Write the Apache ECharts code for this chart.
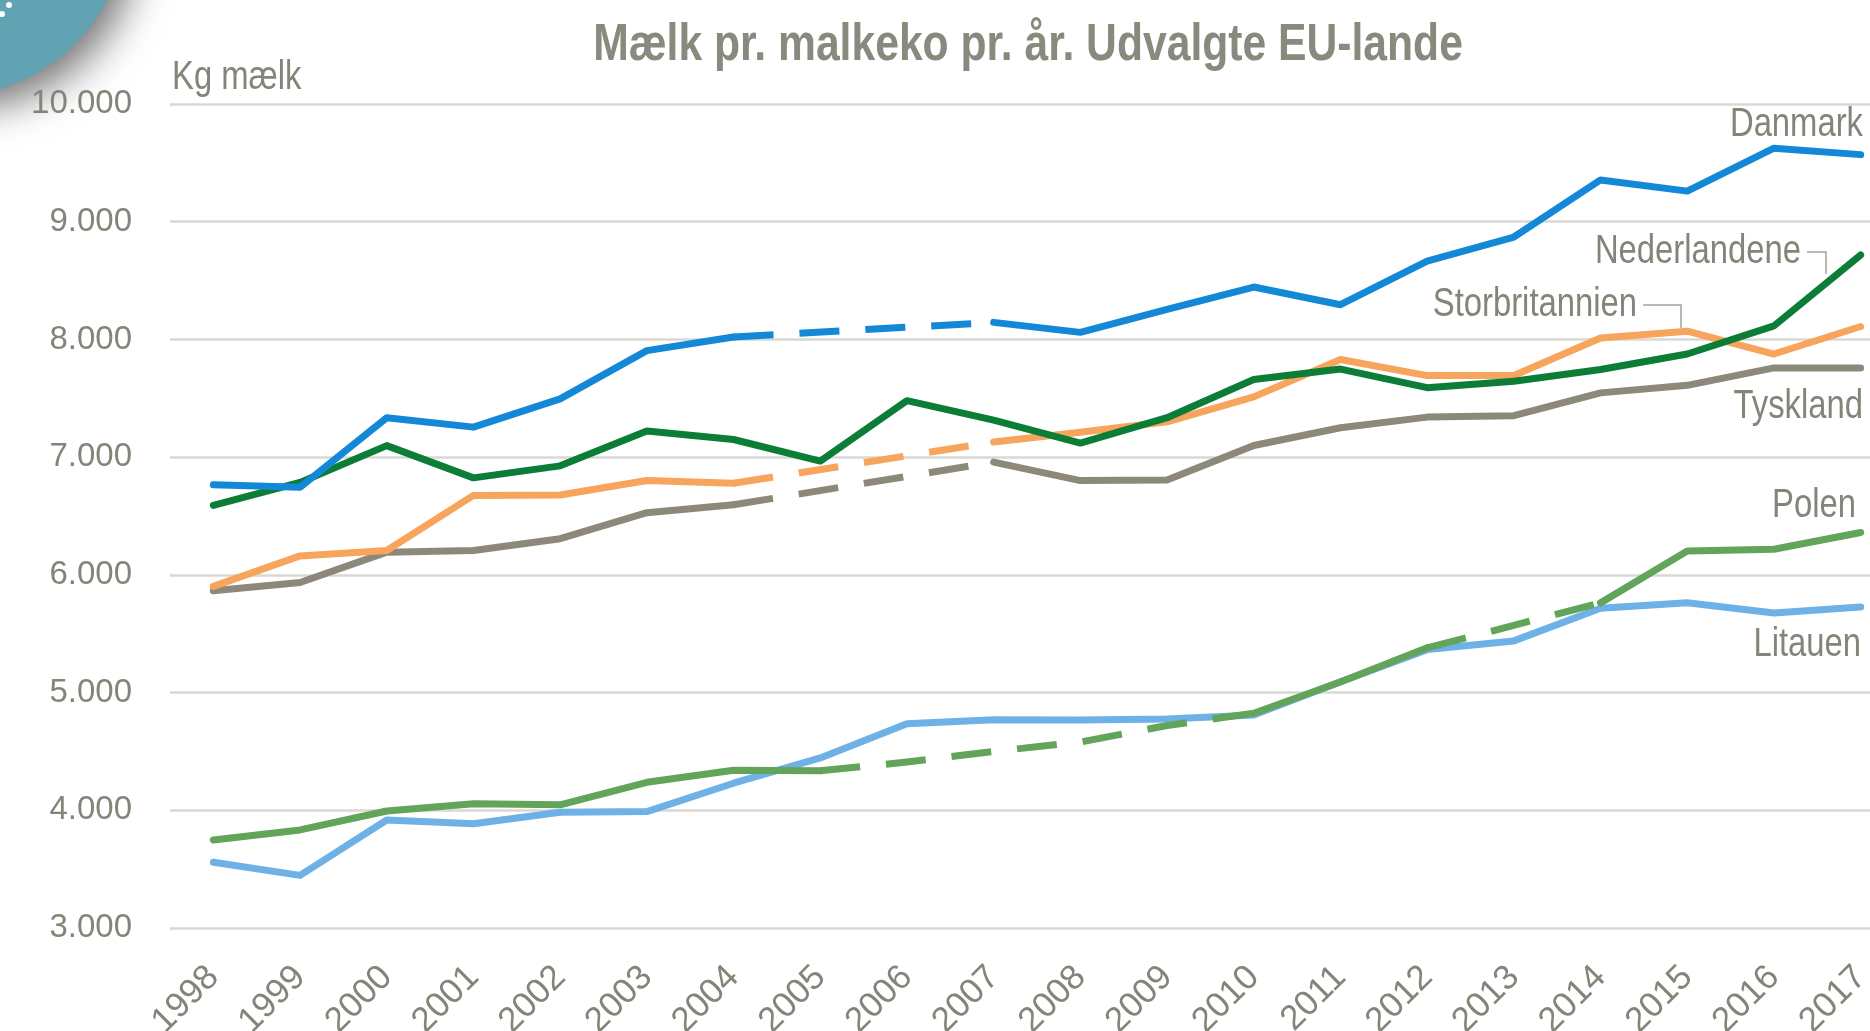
<!DOCTYPE html>
<html>
<head>
<meta charset="utf-8">
<title>Mælk pr. malkeko</title>
<script src="https://cdn.jsdelivr.net/npm/echarts@6/dist/echarts.min.js"></script>
<style>
  html, body { margin: 0; padding: 0; background: #fff; }
  #chart { width: 1870px; height: 1031px; }
</style>
</head>
<body>
<div id="chart"></div>
<script>
// årstal på x-aksen
var years = ['1998', '1999', '2000', '2001', '2002', '2003', '2004', '2005', '2006', '2007',
  '2008', '2009', '2010', '2011', '2012', '2013', '2014', '2015', '2016', '2017'];

// kg mælk pr. ko, fuldt optrukne stykker (null = hul)
var danmark = [6765, 6745, 7335, 7255, 7495, 7905, 8020, null, null, 8145, 8060, 8255, 8445, 8295, 8665, 8870, 9355, 9260, 9625, 9570];
var nederlandene = [6590, 6785, 7098, 6824, 6926, 7222, 7150, 6967, 7480, 7315, 7120, 7335, 7660, 7748, 7590, 7645, 7745, 7876, 8115, 8717];
var storbritannien = [5902, 6161, 6207, 6675, 6678, 6801, 6778, null, null, 7128, 7212, 7300, 7512, 7830, 7693, 7693, 8012, 8070, 7876, 8110];
var tyskland = [5865, 5935, 6193, 6207, 6307, 6528, 6595, null, null, 6958, 6801, 6806, 7099, 7250, 7340, 7352, 7546, 7610, 7758, 7758];
var polen = [3748, 3833, 3994, 4055, 4046, 4238, 4340, 4335, null, null, null, null, 4825, 5090, 5380, null, 5762, 6203, 6218, 6360];
var litauen = [3558, 3447, 3918, 3885, 3983, 3989, 4230, 4445, 4735, 4770, 4766, 4775, 4810, 5092, 5365, 5439, 5716, 5763, 5676, 5726];

// stiplede stykker (nullerne forbindes)
var danmarkStiplet = [null, null, null, null, null, null, 8020, null, null, 8145, null, null, null, null, null, null, null, null, null, null];
var storbritannienStiplet = [null, null, null, null, null, null, 6778, null, null, 7128, null, null, null, null, null, null, null, null, null, null];
var tysklandStiplet = [null, null, null, null, null, null, 6595, null, null, 6958, null, null, null, null, null, null, null, null, null, null];
var polenStiplet1 = [null, null, null, null, null, null, null, 4335, 4410, 4500, 4580, 4720, 4825, null, null, null, null, null, null, null];
var polenStiplet2 = [null, null, null, null, null, null, null, null, null, null, null, null, null, null, 5380, null, 5762, null, null, null];

var yTicks = [3000, 4000, 5000, 6000, 7000, 8000, 9000, 10000];

var farver = {
  danmark: '#1288d6',
  nederlandene: '#0b7d36',
  storbritannien: '#f7a45c',
  tyskland: '#8c897b',
  polen: '#62a45a',
  litauen: '#6db1e6'
};

var font = "'Liberation Sans', Arial, sans-serif";
var tekstFarve = '#848479';
var smal = 0.82; // teksten i originalen er smal (kondenseret)

function linje(navn, data, farve, stiplet) {
  return {
    name: navn,
    type: 'line',
    data: data,
    symbol: 'none',
    smooth: false,
    connectNulls: !!stiplet,
    silent: true,
    lineStyle: {
      color: farve,
      width: 7,
      type: stiplet ? [40, 26] : 'solid',
      cap: stiplet ? 'butt' : 'round',
      join: 'round'
    }
  };
}

function etiket(tekst, x, y, align) {
  return {
    type: 'text', x: x, y: y, scaleX: smal, silent: true,
    style: { text: tekst, font: '40px ' + font, fill: tekstFarve, align: align || 'right', verticalAlign: 'middle' }
  };
}

var chart = echarts.init(document.getElementById('chart'));

var option = {
  animation: false,
  backgroundColor: '#ffffff',
  grid: {
    left: 170,
    right: -34,
    top: 104,
    bottom: 103,
    outerBoundsMode: 'none'
  },
  xAxis: {
    type: 'category',
    data: years,
    boundaryGap: true,
    axisLine: { show: false },
    axisTick: { show: false },
    axisLabel: {
      interval: 0,
      rotate: 45,
      margin: 44,
      fontFamily: font,
      fontSize: 35,
      color: tekstFarve
    }
  },
  yAxis: {
    type: 'value',
    min: yTicks[0],
    max: yTicks[yTicks.length - 1],
    interval: 1000,
    axisLine: { show: false },
    axisTick: { show: false },
    axisLabel: {
      margin: 38,
      fontFamily: font,
      fontSize: 33,
      color: tekstFarve,
      formatter: function (v) {
        return String(v).replace(/\B(?=(\d{3})+(?!\d))/g, '.');
      }
    },
    splitLine: {
      lineStyle: { color: '#d9d9d3', width: 2.5 }
    }
  },
  series: [
    linje('Litauen', litauen, farver.litauen),
    linje('Polen', polen, farver.polen),
    linje('Polen', polenStiplet1, farver.polen, true),
    linje('Polen', polenStiplet2, farver.polen, true),
    linje('Tyskland', tyskland, farver.tyskland),
    linje('Tyskland', tysklandStiplet, farver.tyskland, true),
    linje('Storbritannien', storbritannien, farver.storbritannien),
    linje('Storbritannien', storbritannienStiplet, farver.storbritannien, true),
    linje('Nederlandene', nederlandene, farver.nederlandene),
    linje('Danmark', danmark, farver.danmark),
    linje('Danmark', danmarkStiplet, farver.danmark, true)
  ],
  graphic: [
    // pynt-cirkel i øverste venstre hjørne
    {
      type: 'circle',
      shape: { cx: -50, cy: -80, r: 176 },
      style: {
        fill: '#61a3b2',
        shadowBlur: 40,
        shadowColor: 'rgba(0,0,0,0.55)',
        shadowOffsetX: 12,
        shadowOffsetY: 12
      },
      silent: true
    },
    { type: 'circle', shape: { cx: 9, cy: 5, r: 3 }, style: { fill: '#ffffff' }, silent: true },
    { type: 'circle', shape: { cx: 2, cy: 14, r: 3 }, style: { fill: '#ffffff' }, silent: true },
    // titel
    {
      type: 'text', x: 1028, y: 46, scaleX: smal, silent: true,
      style: {
        text: 'Mælk pr. malkeko pr. år. Udvalgte EU-lande',
        font: 'bold 52px ' + font, fill: '#8a897d', align: 'center', verticalAlign: 'middle'
      }
    },
    // enhed
    etiket('Kg mælk', 172, 78, 'left'),
    // landenavne
    etiket('Danmark', 1863, 125),
    etiket('Nederlandene', 1801, 252),
    etiket('Storbritannien', 1637, 305),
    etiket('Tyskland', 1863, 407),
    etiket('Polen', 1856, 506),
    etiket('Litauen', 1861, 645),
    // forbindelseslinjer til navnene
    {
      type: 'polyline', silent: true,
      shape: { points: [[1807, 252], [1826, 252], [1826, 274]] },
      style: { stroke: '#a3a39b', lineWidth: 1.5, fill: null }
    },
    {
      type: 'polyline', silent: true,
      shape: { points: [[1643, 305], [1681, 305], [1681, 328]] },
      style: { stroke: '#a3a39b', lineWidth: 1.5, fill: null }
    }
  ]
};

chart.setOption(option);
</script>
</body>
</html>
